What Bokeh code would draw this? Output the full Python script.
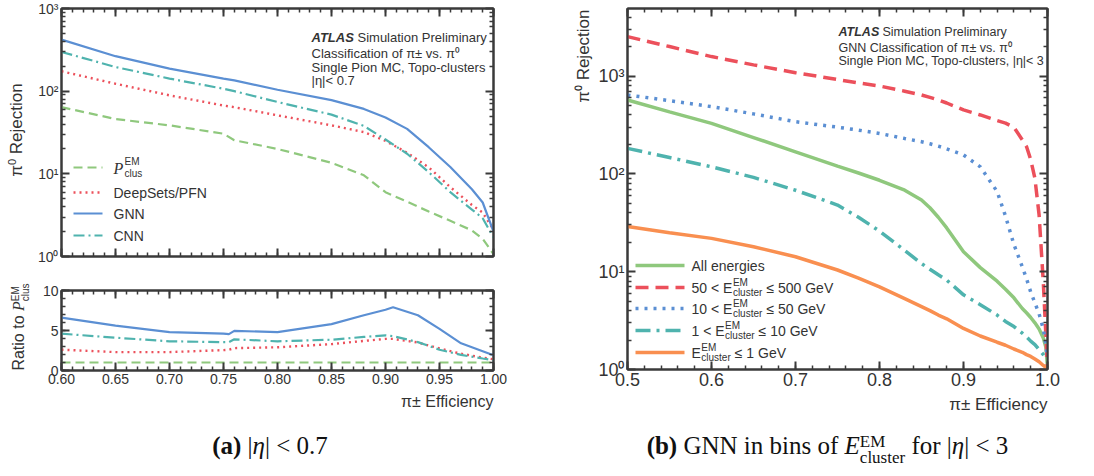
import math
from bokeh.plotting import figure
from bokeh.models import (Range1d, FixedTicker, LinearAxis, LogAxis, Label, Arrow,
                          PrintfTickFormatter, Div, Title)
from bokeh.layouts import row, column
from bokeh.embed import file_html
from bokeh.resources import INLINE

# ---------------- data ----------------
# (a) |eta| < 0.7 : pi0 rejection vs pi+- efficiency
eff_a = [0.60, 0.65, 0.70, 0.75, 0.76, 0.80, 0.85, 0.88, 0.90, 0.92, 0.94, 0.96, 0.98, 0.99, 1.00]
rej_pclus = [64, 46, 38.6, 30.6, 25.5, 20, 13.6, 9.6, 6.0, 4.6, 3.5, 2.7, 2.07, 1.64, 1.07]
rej_deepsets = [174, 123, 89, 67, 64, 51, 38.6, 32, 25, 18, 12, 6.9, 4.2, 3.4, 2.1]
rej_gnn = [420, 265, 187, 142, 135, 104, 78, 61, 48, 35, 21, 12.1, 6.5, 4.5, 2.0]
rej_cnn = [298, 196, 142, 107, 100, 74, 52, 38, 26, 17.5, 10.5, 6.0, 3.7, 2.9, 1.7]

# ratio to P_clus^EM
eff_r = [0.60, 0.65, 0.70, 0.75, 0.755, 0.76, 0.80, 0.85, 0.88, 0.90, 0.907, 0.93, 0.95, 0.97, 0.99, 1.00]
ratio_gnn = [6.6, 5.6, 4.8, 4.6, 4.55, 4.95, 4.8, 5.8, 6.9, 7.6, 7.9, 6.9, 5.2, 3.4, 2.4, 1.9]
ratio_cnn = [4.6, 4.1, 3.65, 3.55, 3.55, 3.9, 3.65, 3.85, 4.2, 4.4, 4.3, 3.55, 2.6, 1.95, 1.5, 1.3]
ratio_deepsets = [2.6, 2.3, 2.3, 2.55, 2.6, 2.8, 2.9, 3.3, 3.7, 3.95, 3.95, 3.5, 2.75, 2.1, 1.6, 1.4]
ratio_pclus = [1.0] * len(eff_r)

# (b) GNN in bins of E_cluster^EM, |eta| < 3
eff_b = [0.50, 0.55, 0.60, 0.65, 0.70, 0.75, 0.775, 0.80, 0.83, 0.85, 0.86, 0.87, 0.88, 0.90,
         0.92, 0.94, 0.95, 0.96, 0.97, 0.975, 0.98, 0.985, 0.99, 0.995, 0.998, 1.00]
rej_all = [569, 430, 328, 235, 168, 120, 102, 86, 68, 54, 45, 36, 28, 16,
           11, 8.0, 6.6, 5.4, 4.2, 3.8, 3.4, 3.0, 2.6, 2.1, 1.7, 1.07]
rej_50_500 = [2530, 2000, 1580, 1300, 1082, 920, 850, 790, 700, 640, 605, 570, 530, 450,
              400, 350, 330, 300, 222, 190, 140, 90, 38, 7.8, 2.3, 1.0]
rej_10_50 = [640, 560, 486, 410, 341, 300, 280, 259, 230, 213, 203, 192, 180, 156,
             118, 66, 37, 19, 11.2, 8.5, 6.2, 4.8, 3.7, 2.6, 1.8, 1.3]
rej_1_10 = [182, 147, 118, 92, 68, 48, 36, 26, 16.5, 12.1, 10.6, 9.3, 8.2, 5.8,
            4.6, 3.6, 3.1, 2.75, 2.35, 2.15, 1.95, 1.8, 1.6, 1.42, 1.3, 1.24]
rej_0_1 = [29, 25, 21.9, 18, 14.2, 10.4, 8.6, 7.0, 5.3, 4.4, 4.0, 3.6, 3.3, 2.63,
           2.2, 1.9, 1.77, 1.62, 1.5, 1.42, 1.36, 1.28, 1.2, 1.1, 1.05, 1.0]

x_ticks_a = [0.60, 0.65, 0.70, 0.75, 0.80, 0.85, 0.90, 0.95, 1.00]
x_ticks_b = [0.5, 0.6, 0.7, 0.8, 0.9, 1.0]
log_ticks = [1, 10, 100, 1000]
log_labels = {1: "10⁰", 10: "10¹", 100: "10²", 1000: "10³"}
ratio_ticks = [0, 5, 10]

# ---------------- style ----------------
FONT = "Liberation Sans"
AXC = "#3a3a3a"
TXT = "#333333"
GREEN = "#8fc87d"
RED = "#ec505b"
BLUE = "#5b8fd3"
TEAL = "#4fb3ae"
ORANGE = "#f98f50"


def log_minor(top):
    out = []
    d = 1
    while d < top:
        for m in range(2, 10):
            if m * d < top:
                out.append(m * d)
        d *= 10
    return out


def style_axis(ax, labels=True, size="14px", major_in=8, minor_in=4, ticks=None):
    ax.major_tick_in = major_in
    ax.major_tick_out = 0
    ax.minor_tick_in = minor_in
    ax.minor_tick_out = 0
    ax.axis_line_width = 2
    ax.axis_line_color = AXC
    ax.major_tick_line_width = 2
    ax.major_tick_line_color = AXC
    ax.minor_tick_line_width = 1.5
    ax.minor_tick_line_color = AXC
    ax.major_label_text_font = FONT
    ax.major_label_text_color = TXT
    ax.major_label_text_font_size = size
    if labels:
        ax.major_label_standoff = 3
    else:
        ax.major_label_standoff = 0
        ax.major_label_overrides = {t: " " for t in ticks}
        ax.major_label_text_alpha = 0


def make_fig(xr, yr, ylog, fw, fh, bl, br, bt, bb):
    p = figure(output_backend="svg", toolbar_location=None,
               x_range=xr, y_range=yr, y_axis_type="log" if ylog else "linear",
               frame_width=fw, frame_height=fh,
               min_border_left=bl, min_border_right=br,
               min_border_top=bt, min_border_bottom=bb)
    p.xgrid.visible = False
    p.ygrid.visible = False
    p.outline_line_color = AXC
    p.outline_line_width = 2
    p.background_fill_color = "white"
    p.border_fill_color = "white"
    return p


def lab(p, x, y, text, size="14px", align="left", baseline="middle", angle=0.0,
        font=FONT, style="normal", color=TXT):
    p.add_layout(Label(x=x, y=y, x_units="screen", y_units="screen", text=text,
                       text_font=font, text_font_size=size, text_align=align,
                       text_baseline=baseline, angle=angle, text_font_style=style,
                       text_color=color))


def side_title(p, text, place, align, size, standoff, offset=0):
    p.add_layout(Title(text=text, align=align, text_font=FONT, text_font_size=size,
                       text_font_style="normal", text_color=TXT, standoff=standoff,
                       offset=offset), place)


def sample(p, x0, x1, y, color, width, dash):
    p.add_layout(Arrow(end=None, x_start=x0, y_start=y, x_end=x1, y_end=y,
                       start_units="screen", end_units="screen",
                       line_color=color, line_width=width, line_dash=dash))


def add_axes(p, xticks, xminor, xfmt, yticks, yminor, ylog, ylabels, xlabels_on,
             lsize, ylabel_overrides=None):
    bx = p.xaxis[0]
    bx.ticker = FixedTicker(ticks=xticks, minor_ticks=xminor)
    bx.formatter = PrintfTickFormatter(format=xfmt)
    style_axis(bx, labels=xlabels_on, size=lsize, ticks=xticks)
    ly = p.yaxis[0]
    ly.ticker = FixedTicker(ticks=yticks, minor_ticks=yminor)
    if ylabel_overrides:
        ly.major_label_overrides = ylabel_overrides
    style_axis(ly, labels=ylabels, size=lsize, ticks=yticks)
    top = LinearAxis(ticker=FixedTicker(ticks=xticks, minor_ticks=xminor))
    style_axis(top, labels=False, size="4px", ticks=xticks)
    p.add_layout(top, "above")
    right = (LogAxis if ylog else LinearAxis)(ticker=FixedTicker(ticks=yticks, minor_ticks=yminor))
    style_axis(right, labels=False, size="4px", ticks=yticks)
    p.add_layout(right, "right")


# ---------------- (a) top: rejection ----------------
minor_a = [round(0.6 + 0.01 * i, 2) for i in range(41)]
fa = make_fig(Range1d(0.6, 1.0), Range1d(1, 1000), True, 432, 248, 31, 47, 8, 20)
add_axes(fa, x_ticks_a, minor_a, "%.2f", log_ticks, log_minor(1000), True, True, False,
         "14px", log_labels)
fa.line(eff_a, rej_pclus, line_color=GREEN, line_width=2.2, line_dash="9 5")
fa.line(eff_a, rej_deepsets, line_color=RED, line_width=2.4, line_dash="2 4")
fa.line(eff_a, rej_gnn, line_color=BLUE, line_width=2.2)
fa.line(eff_a, rej_cnn, line_color=TEAL, line_width=2.2, line_dash="11 4 2 4")

# ATLAS block
ax0 = 250
lab(fa, ax0, 219, "ATLAS", size="13px", style="bold italic")
lab(fa, ax0 + 46, 219, "Simulation Preliminary", size="13px")
lab(fa, ax0, 203, "Classification of π± vs. π⁰", size="13px")
lab(fa, ax0, 189, "Single Pion MC, Topo-clusters", size="13px")
lab(fa, ax0, 176, "|η|< 0.7", size="13px")
# legend
leg_rows_a = [89, 64, 43, 21]
sample(fa, 12, 41, leg_rows_a[0], GREEN, 2.2, "9 5")
sample(fa, 12, 41, leg_rows_a[1], RED, 2.4, "2 4")
sample(fa, 12, 41, leg_rows_a[2], BLUE, 2.2, "solid")
sample(fa, 12, 41, leg_rows_a[3], TEAL, 2.2, "11 4 2 4")
lab(fa, 52, leg_rows_a[0] - 1, "P", size="16px", font="Liberation Serif", style="italic")
lab(fa, 63, leg_rows_a[0] + 6, "EM", size="10px")
lab(fa, 63, leg_rows_a[0] - 6, "clus", size="10px")
lab(fa, 52, leg_rows_a[1], "DeepSets/PFN", size="14px")
lab(fa, 52, leg_rows_a[2], "GNN", size="14px")
lab(fa, 52, leg_rows_a[3], "CNN", size="14px")

# ---------------- (a) bottom: ratio ----------------
fb = make_fig(Range1d(0.6, 1.0), Range1d(0, 10), False, 432, 80, 31, 47, 14, 48)
add_axes(fb, x_ticks_a, minor_a, "%.2f", ratio_ticks, list(range(0, 11)), False, True, True,
         "14px")
fb.line(eff_r, ratio_pclus, line_color=GREEN, line_width=2.2, line_dash="9 5")
fb.line(eff_r, ratio_deepsets, line_color=RED, line_width=2.4, line_dash="2 4")
fb.line(eff_r, ratio_gnn, line_color=BLUE, line_width=2.2)
fb.line(eff_r, ratio_cnn, line_color=TEAL, line_width=2.2, line_dash="11 4 2 4")
side_title(fb, "π± Efficiency", "below", "right", "16px", 9)

# left titles of panel (a), as real HTML text in a narrow column
left_titles = Div(
    width=30, height=418, margin=0,
    text=(
        "<div style=\"position:relative;width:30px;height:418px;font-family:'Liberation Sans';"
        "color:#333\">"
        "<div style=\"position:absolute;left:17px;top:130px;white-space:nowrap;font-size:17px;"
        "transform:translate(-50%,-50%) rotate(-90deg)\">π<sup style=\"font-size:11px\">0</sup>"
        " Rejection</div>"
        "<div style=\"position:absolute;left:19px;top:327px;white-space:nowrap;font-size:16px;"
        "transform:translate(-50%,-50%) rotate(-90deg)\">Ratio to "
        "<i style=\"font-family:'Liberation Serif'\">P</i><span style=\"display:inline-block;"
        "vertical-align:-5px;font-size:10px;line-height:10px;text-align:left\">EM<br>clus</span>"
        "</div></div>"
    ))

# ---------------- (b) ----------------
minor_b = [round(0.5 + 0.02 * i, 2) for i in range(26)]
fc = make_fig(Range1d(0.5, 1.0), Range1d(1, 4900), True, 420, 361, 87, 40, 8, 49)
add_axes(fc, x_ticks_b, minor_b, "%.1f", log_ticks, log_minor(4900), True, True, True,
         "18px", log_labels)
fc.line(eff_b, rej_all, line_color=GREEN, line_width=3.5)
fc.line(eff_b, rej_50_500, line_color=RED, line_width=3.5, line_dash="13 7")
fc.line(eff_b, rej_10_50, line_color=BLUE, line_width=3.5, line_dash="3 6")
fc.line(eff_b, rej_1_10, line_color=TEAL, line_width=3.5, line_dash="15 6 3 6")
fc.line(eff_b, rej_0_1, line_color=ORANGE, line_width=3.5)
side_title(fc, "π⁰ Rejection", "left", "right", "17px", 6, 1)
side_title(fc, "π± Efficiency", "below", "right", "17px", 8)

bx0 = 211
lab(fc, bx0, 338, "ATLAS", size="12.5px", style="bold italic")
lab(fc, bx0 + 44, 338, "Simulation Preliminary", size="12.5px")
lab(fc, bx0, 322, "GNN Classification of π± vs. π⁰", size="12.5px")
lab(fc, bx0, 309, "Single Pion MC, Topo-clusters, |η|< 3", size="12.5px")

leg_rows_b = [104, 82, 61, 39, 17]
sample(fc, 8, 57, leg_rows_b[0], GREEN, 3.5, "solid")
sample(fc, 8, 57, leg_rows_b[1], RED, 3.5, "13 7")
sample(fc, 8, 57, leg_rows_b[2], BLUE, 3.5, "3 6")
sample(fc, 8, 57, leg_rows_b[3], TEAL, 3.5, "15 6 3 6")
sample(fc, 8, 57, leg_rows_b[4], ORANGE, 3.5, "solid")
tx = 64
lab(fc, tx, leg_rows_b[0], "All energies", size="14px")
for yrow, pre, w, suf in [(leg_rows_b[1], "50 < E", 40.9, "≤ 500 GeV"),
                          (leg_rows_b[2], "10 < E", 40.9, "≤ 50 GeV"),
                          (leg_rows_b[3], "1 < E", 33.1, "≤ 10 GeV"),
                          (leg_rows_b[4], "E", 9.3, "≤ 1 GeV")]:
    lab(fc, tx, yrow, pre, size="14px")
    lab(fc, tx + w + 0.5, yrow + 5, "EM", size="10px")
    lab(fc, tx + w + 0.5, yrow - 5, "cluster", size="10px")
    lab(fc, tx + w + 34, yrow, suf, size="14px")

# ---------------- captions ----------------
cap_style = {"font-family": "Liberation Serif", "font-size": "25px", "color": "#111",
             "text-align": "center", "width": "100%"}
div_a = Div(text="<b>(a)</b> |<i>η</i>| &lt; 0.7", width=540, height=50, margin=0,
            styles=dict(cap_style, **{"padding-top": "10px"}))
div_b = Div(text=("<b>(b)</b> GNN in bins of <i>E</i><span style=\"display:inline-block;"
                  "vertical-align:-9px;font-size:17px;line-height:16px;text-align:left\">"
                  "EM<br>cluster</span> for |<i>η</i>| &lt; 3"),
            width=547, height=50, margin=0,
            styles=dict(cap_style, **{"padding-top": "10px", "padding-left": "28px"}))

layout = column(row(left_titles, column(fa, fb), fc), row(div_a, div_b))
open("out.html", "w").write(file_html(layout, INLINE))
